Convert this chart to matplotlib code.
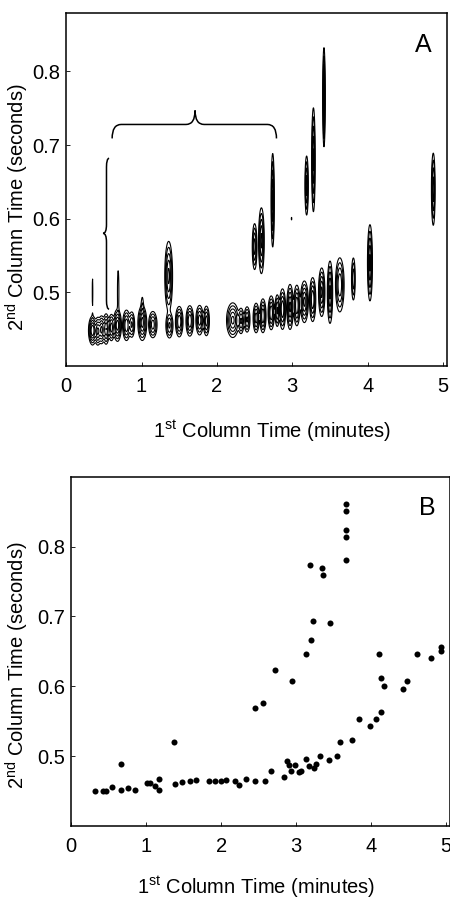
import numpy as np
import matplotlib
matplotlib.use("Agg")
import matplotlib.pyplot as plt
from matplotlib.path import Path
from matplotlib.patches import PathPatch

plt.rcParams['font.family'] = ['Liberation Sans', 'DejaVu Sans']
plt.rcParams['mathtext.fontset'] = 'custom'
plt.rcParams['mathtext.rm'] = 'Liberation Sans'

# panel A: peaks (1st column time, 2nd column time, width x, width y, height)
peak_x = [0.35, 0.42, 0.47, 0.53, 0.60, 0.68, 0.80, 0.87, 1.01, 1.15,
          1.37, 1.50, 1.64, 1.77, 1.86, 2.21, 2.32, 2.40, 2.52, 2.61,
          2.72, 2.80, 2.87, 2.97, 3.06, 3.16, 3.27, 3.39, 3.50, 3.63,
          3.81, 4.03,
          1.36, 2.50, 2.59, 2.74, 2.99, 3.19, 3.28, 3.42, 4.87,
          0.35, 0.69, 1.01]
peak_y = [0.448, 0.447, 0.449, 0.450, 0.452, 0.455, 0.455, 0.456, 0.458, 0.456,
          0.455, 0.460, 0.461, 0.462, 0.461, 0.462, 0.461, 0.463, 0.465, 0.468,
          0.472, 0.475, 0.477, 0.480, 0.482, 0.487, 0.490, 0.500, 0.500, 0.510,
          0.518, 0.540,
          0.522, 0.562, 0.570, 0.625, 0.600, 0.645, 0.680, 0.765, 0.640,
          0.500, 0.500, 0.475]
peak_wx = [0.022, 0.018, 0.018, 0.018, 0.018, 0.022, 0.022, 0.018, 0.025, 0.025,
           0.022, 0.022, 0.022, 0.022, 0.018, 0.035, 0.018, 0.018, 0.018, 0.018,
           0.018, 0.014, 0.018, 0.018, 0.018, 0.022, 0.018, 0.018, 0.015, 0.025,
           0.012, 0.014,
           0.022, 0.014, 0.016, 0.009, 0.005, 0.010, 0.010, 0.007, 0.011,
           0.006, 0.008, 0.010]
peak_wy = [0.008, 0.008, 0.008, 0.009, 0.008, 0.009, 0.009, 0.008, 0.010, 0.008,
           0.008, 0.009, 0.009, 0.009, 0.009, 0.010, 0.008, 0.008, 0.009, 0.010,
           0.010, 0.010, 0.012, 0.013, 0.012, 0.012, 0.013, 0.014, 0.018, 0.016,
           0.014, 0.022,
           0.020, 0.014, 0.019, 0.027, 0.003, 0.018, 0.030, 0.028, 0.022,
           0.030, 0.025, 0.012]
peak_h = [1.0, 0.8, 0.8, 0.7, 0.6, 0.9, 0.7, 0.5, 0.8, 0.6,
          0.5, 0.7, 0.7, 0.6, 0.6, 0.8, 0.5, 0.5, 0.6, 0.7,
          0.7, 0.5, 0.7, 0.8, 0.7, 0.8, 0.7, 0.8, 0.8, 0.7,
          0.4, 0.8,
          0.8, 0.6, 0.8, 0.8, 0.06, 0.6, 0.8, 0.9, 0.6,
          0.06, 0.1, 0.15]
contour_levels = [0.05, 0.12, 0.25, 0.45, 0.7]

# panel B: peak apexes
apex_x = [0.32, 0.42, 0.47, 0.54, 0.66, 0.67, 0.76, 0.85, 1.01, 1.05,
          1.12, 1.17, 1.17, 1.37, 1.39, 1.48, 1.59, 1.66, 1.84, 1.92,
          2.00, 2.07, 2.18, 2.24, 2.33, 2.45, 2.45, 2.56, 2.58, 2.67,
          2.72, 2.84, 2.88, 2.90, 2.93, 2.94, 2.98, 3.04, 3.07, 3.13,
          3.13, 3.17, 3.19, 3.20, 3.22, 3.24, 3.26, 3.32, 3.35, 3.36,
          3.44, 3.45, 3.55, 3.58, 3.66, 3.67, 3.66, 3.67, 3.66, 3.75,
          3.84, 3.98, 4.06, 4.10, 4.13, 4.13, 4.17, 4.43, 4.48, 4.61,
          4.80, 4.93, 4.93]
apex_y = [0.450, 0.451, 0.451, 0.456, 0.489, 0.452, 0.455, 0.452, 0.462, 0.462,
          0.458, 0.452, 0.467, 0.520, 0.460, 0.463, 0.465, 0.466, 0.465, 0.465,
          0.465, 0.466, 0.465, 0.459, 0.467, 0.465, 0.569, 0.576, 0.465, 0.479,
          0.623, 0.471, 0.493, 0.487, 0.479, 0.607, 0.487, 0.477, 0.479, 0.496,
          0.646, 0.486, 0.774, 0.667, 0.694, 0.483, 0.489, 0.500, 0.770, 0.760,
          0.495, 0.691, 0.500, 0.521, 0.861, 0.851, 0.824, 0.813, 0.781, 0.523,
          0.553, 0.543, 0.554, 0.646, 0.563, 0.612, 0.601, 0.596, 0.608, 0.647,
          0.640, 0.651, 0.657]

# brace annotations in data units
hbrace = [0.61, 2.79, 0.709, 0.728, 0.747, 1.71]
vbrace = [0.477, 0.682, 0.57, 0.535, 0.49, 0.58]

fig = plt.figure(figsize=(4.5, 9.01), dpi=100)
axA = fig.add_axes([0.147, 0.594, 0.846, 0.392])
axB = fig.add_axes([0.158, 0.083, 0.842, 0.388])

gx = np.linspace(0, 5.05, 1600)
gy = np.linspace(0.4, 0.88, 700)
X, Y = np.meshgrid(gx, gy)
Z = np.zeros_like(X)
for px, py, wx, wy, h in zip(peak_x, peak_y, peak_wx, peak_wy, peak_h):
    Z += h * np.exp(-0.5 * ((X - px) / wx) ** 2 - 0.5 * ((Y - py) / wy) ** 2)
axA.contour(X, Y, Z, levels=contour_levels, colors='black', linewidths=0.8)


def brace_h(ax, x0, x1, yb, yf, yt, xm):
    d = 0.12
    verts = [(x0, yb), (x0, yf), (x0 + d, yf),
             (xm - d, yf), (xm, yf), (xm, yt),
             (xm, yf), (xm + d, yf),
             (x1 - d, yf), (x1, yf), (x1, yb)]
    codes = [Path.MOVETO, Path.CURVE3, Path.CURVE3,
             Path.LINETO, Path.CURVE3, Path.CURVE3,
             Path.CURVE3, Path.CURVE3,
             Path.LINETO, Path.CURVE3, Path.CURVE3]
    ax.add_patch(PathPatch(Path(verts, codes), fill=False, lw=1.1, color='black'))


def brace_v(ax, y0, y1, xb, xf, xt, ym):
    d = 0.012
    verts = [(xb, y0), (xf, y0), (xf, y0 + d),
             (xf, ym - d), (xf, ym), (xt, ym),
             (xf, ym), (xf, ym + d),
             (xf, y1 - d), (xf, y1), (xb, y1)]
    codes = [Path.MOVETO, Path.CURVE3, Path.CURVE3,
             Path.LINETO, Path.CURVE3, Path.CURVE3,
             Path.CURVE3, Path.CURVE3,
             Path.LINETO, Path.CURVE3, Path.CURVE3]
    ax.add_patch(PathPatch(Path(verts, codes), fill=False, lw=1.1, color='black'))


brace_h(axA, *hbrace)
brace_v(axA, *vbrace)

axB.scatter(apex_x, apex_y, s=19, color='black', linewidths=0)

for ax in (axA, axB):
    ax.set_xlim(0, 5.05)
    ax.set_ylim(0.4, 0.88 if ax is axA else 0.9)
    ax.set_xticks([0, 1, 2, 3, 4, 5])
    ax.set_xticklabels(['0', '1', '2', '3', '4', '5'])
    ax.set_yticks([0.5, 0.6, 0.7, 0.8])
    ax.set_yticklabels(['0.5', '0.6', '0.7', '0.8'])
    ax.tick_params(direction='in', length=3, width=0.6, labelsize=14.5)
    ax.tick_params(axis='x', pad=8)
    ax.tick_params(axis='y', pad=4)
    for s in ax.spines.values():
        s.set_linewidth(1.1)

fig.text(423 / 450, 1 - 45 / 901, 'A', fontsize=18, ha='center', va='center')
fig.text(427 / 450, 1 - 508 / 901, 'B', fontsize=18, ha='center', va='center')

xlab = r'1$^{\rm st}$ Column Time (minutes)'
ylab = r'2$^{\rm nd}$ Column Time (seconds)'
fig.text(272 / 450, 1 - 431 / 901, xlab, fontsize=14.5, ha='center', va='center')
fig.text(256 / 450, 1 - 887 / 901, xlab, fontsize=14.5, ha='center', va='center')
fig.text(17 / 450, 1 - 207 / 901, ylab, fontsize=14.5, ha='center', va='center', rotation=90)
fig.text(17 / 450, 1 - 665 / 901, ylab, fontsize=14.5, ha='center', va='center', rotation=90)

fig.savefig('out.png', dpi=100)
